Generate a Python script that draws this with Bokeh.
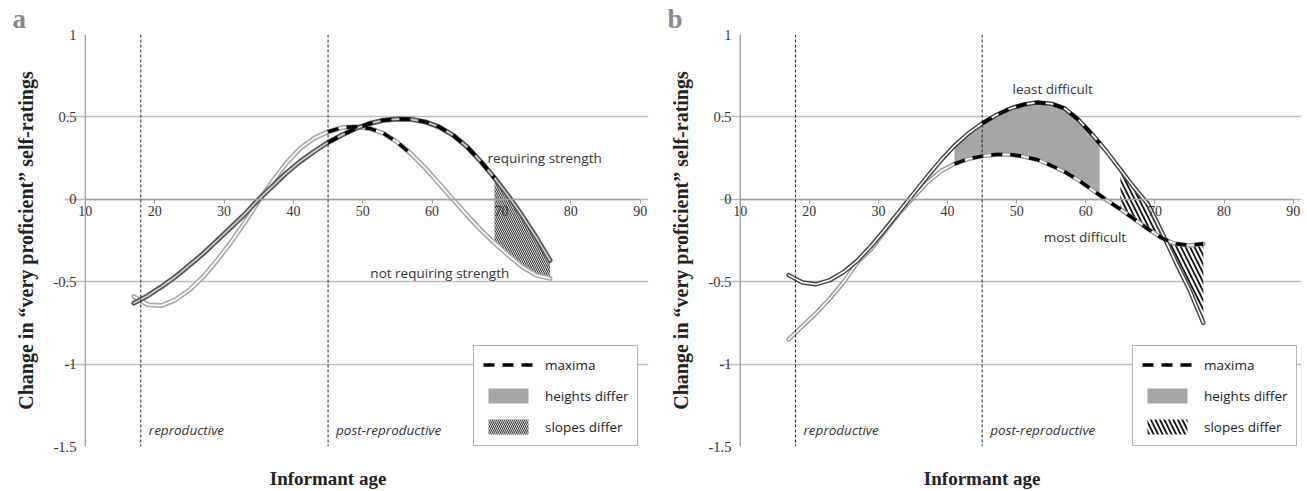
import numpy as np
from bokeh.plotting import figure
from bokeh.layouts import row
from bokeh.models import (Range1d, FixedTicker, Span, Label, Title, Legend,
                          LegendItem, NumeralTickFormatter, LinearAxis)
from bokeh.embed import file_html
from bokeh.resources import INLINE

# ---------------- data ----------------
# panel a
ages_a = [17, 19, 21, 23, 25, 27, 29, 31, 33, 35, 37, 39, 41, 43, 45, 47, 49, 51,
          53, 55, 57, 59, 61, 63, 65, 67, 69, 71, 73, 75, 77]
requiring = [-0.63, -0.585, -0.53, -0.47, -0.40, -0.33, -0.25, -0.17, -0.09, 0.0,
             0.08, 0.16, 0.23, 0.29, 0.345, 0.39, 0.43, 0.46, 0.48, 0.487, 0.485,
             0.47, 0.44, 0.39, 0.32, 0.23, 0.13, 0.02, -0.10, -0.23, -0.37]
not_requiring = [-0.59, -0.64, -0.645, -0.61, -0.55, -0.47, -0.37, -0.26, -0.14, -0.01,
                 0.11, 0.22, 0.31, 0.37, 0.41, 0.435, 0.44, 0.43, 0.40, 0.345, 0.275,
                 0.19, 0.095, 0.0, -0.095, -0.185, -0.265, -0.34, -0.41, -0.46, -0.48]
# panel b
ages_b = [17, 19, 21, 23, 25, 27, 29, 31, 33, 35, 37, 39, 41, 43, 45, 47, 49, 51,
          53, 55, 57, 59, 61, 62, 63, 65, 67, 69, 71, 72, 73, 75, 77]
least_difficult = [-0.46, -0.505, -0.515, -0.49, -0.44, -0.37, -0.28, -0.18, -0.075, 0.03,
                   0.135, 0.235, 0.325, 0.40, 0.46, 0.51, 0.55, 0.575, 0.588, 0.58, 0.55,
                   0.48, 0.39, 0.34, 0.29, 0.18, 0.07, -0.03, -0.20, -0.29, -0.38, -0.55, -0.75]
most_difficult = [-0.85, -0.77, -0.69, -0.60, -0.50, -0.38, -0.30, -0.19, -0.085, 0.01,
                  0.10, 0.17, 0.215, 0.245, 0.262, 0.272, 0.272, 0.26, 0.24, 0.205, 0.165,
                  0.115, 0.055, 0.025, -0.005, -0.06, -0.12, -0.18, -0.235, -0.255, -0.27,
                  -0.28, -0.27]

# age windows
maxima_a = {"requiring": (45, 69), "not_requiring": (45, 57)}
slopes_a = (69, 77)
maxima_b = {"least": (45, 62), "most": (41, 77)}
heights_b = (41, 62)
slopes_b = (65, 77)

x_ticks = [10, 20, 30, 40, 50, 60, 70, 80, 90]
y_ticks = [-1.5, -1, -0.5, 0, 0.5, 1]
phase_ages = [18, 45]
phase_names = ["reproductive", "post-reproductive"]
legend_labels = ["maxima", "heights differ", "slopes differ"]
x_title = "Informant age"
y_title = "Change in \u201cvery proficient\u201d self-ratings"

SERIF = "Liberation Serif"
SANS = "Open Sans"
GRID = "#bdbdbd"
AXIS = "#a0a0a0"
X_MIN, X_MAX = x_ticks[0], x_ticks[-1]
X_TITLE_AT = 45   # where the x title is centred (as in the original figure)


def window(ages, vals, lo, hi):
    a = np.array(ages, dtype=float)
    m = (a >= lo) & (a <= hi)
    return a[m], np.array(vals, dtype=float)[m]


def base_fig(width, border_left, letter):
    p = figure(width=width, height=491, x_range=Range1d(7, 91.2), y_range=Range1d(-1.5, 1),
               output_backend="svg", toolbar_location=None,
               min_border_left=border_left, min_border_right=6,
               min_border_top=32, min_border_bottom=44)
    p.outline_line_color = None
    p.background_fill_color = "white"
    p.border_fill_color = "white"
    p.xgrid.visible = False
    p.ygrid.ticker = FixedTicker(ticks=y_ticks)
    p.ygrid.grid_line_color = GRID
    p.ygrid.grid_line_width = 1.4
    p.ygrid.bounds = (X_MIN - 0.75, X_MAX)

    xa = p.xaxis[0]
    xa.fixed_location = 0
    xa.bounds = (X_MIN, X_MAX)
    xa.ticker = FixedTicker(ticks=x_ticks)
    xa.axis_line_color = AXIS
    xa.axis_line_width = 1.4
    xa.major_tick_line_color = AXIS
    xa.major_tick_out = 4
    xa.major_tick_in = 0
    xa.minor_tick_line_color = None
    xa.major_label_text_font = SERIF
    xa.major_label_text_font_size = "14px"
    xa.major_label_text_color = "#333333"
    xa.major_label_standoff = 3

    ya = p.yaxis[0]
    ya.ticker = FixedTicker(ticks=y_ticks)
    ya.formatter = NumeralTickFormatter(format="0.[0]")
    ya.axis_line_color = None
    ya.major_tick_line_color = None
    ya.major_tick_out = 0
    ya.major_tick_in = 0
    ya.minor_tick_line_color = None
    ya.major_label_text_font = SERIF
    ya.major_label_text_font_size = "14.5px"
    ya.major_label_text_color = "#333333"
    ya.major_label_standoff = -12
    ya.axis_label = y_title
    ya.axis_label_text_font = SERIF
    ya.axis_label_text_font_style = "bold"
    ya.axis_label_text_font_size = "20px"
    ya.axis_label_text_color = "#222222"
    ya.axis_label_standoff = 14

    # y axis line at the first x tick
    p.add_layout(Span(location=X_MIN, dimension="height", line_color=AXIS, line_width=1.4))

    # x axis title below the frame
    lab_axis = LinearAxis(ticker=FixedTicker(ticks=[X_TITLE_AT]),
                          major_label_overrides={X_TITLE_AT: x_title},
                          axis_line_color=None, major_tick_line_color=None,
                          minor_tick_line_color=None, major_tick_out=0, major_tick_in=0,
                          minor_tick_out=0, major_label_standoff=21,
                          major_label_text_font=SERIF, major_label_text_font_style="bold",
                          major_label_text_font_size="19px",
                          major_label_text_color="#222222")
    p.add_layout(lab_axis, "below")

    p.add_layout(Title(text=letter, align="left", text_font=SERIF, offset=-52,
                       text_font_style="bold", text_font_size="27px",
                       text_color="#8a8a8a", standoff=2), "above")

    for a in phase_ages:
        p.add_layout(Span(location=a, dimension="height", line_color="#222222",
                          line_width=1, line_dash="3 2"))
    for a, name in zip(phase_ages, phase_names):
        p.add_layout(Label(x=a, y=-1.4, text=name, x_offset=8, text_font=SANS,
                           text_font_style="italic", text_font_size="13.5px",
                           text_color="#333333", text_baseline="middle"))
    return p


def curve(p, ages, vals, outer, inner, w=5):
    p.line(ages, vals, line_color=outer, line_width=w, line_join="round", line_cap="round")
    p.line(ages, vals, line_color=inner, line_width=1.6, line_join="round", line_cap="round")


def maxima(p, ages, vals, lo, hi):
    x, y = window(ages, vals, lo, hi)
    return p.line(x, y, line_color="black", line_width=3.5, line_dash="11 8")


def add_legend(p, items, x_loc):
    leg = Legend(items=[LegendItem(label=l, renderers=[r]) for l, r in zip(legend_labels, items)],
                 location=(x_loc, 0), orientation="vertical",
                 glyph_width=50, glyph_height=19, spacing=12, padding=9, margin=0,
                 label_standoff=12, label_text_font=SANS, label_text_font_size="13.5px",
                 label_text_color="#222222", border_line_color="#666666",
                 border_line_width=1.5, background_fill_color="white",
                 background_fill_alpha=1)
    p.add_layout(leg)


# ---------------- panel a ----------------
pa = base_fig(654, 64, "a")
xs, top = window(ages_a, requiring, *slopes_a)
_, bot = window(ages_a, not_requiring, *slopes_a)
hatch_a = pa.varea(x=xs, y1=bot, y2=top, fill_color="white", fill_alpha=1,
                   hatch_pattern="left_diagonal_line", hatch_color="#3a3a3a",
                   hatch_scale=4, hatch_weight=1.1)
gray_a = pa.varea(x=ages_a, y1=requiring, y2=requiring, fill_color="#a6a6a6")
curve(pa, ages_a, not_requiring, "#ababab", "white")
curve(pa, ages_a, requiring, "#555555", "#d0d0d0")
dash_a = maxima(pa, ages_a, requiring, *maxima_a["requiring"])
maxima(pa, ages_a, not_requiring, *maxima_a["not_requiring"])
pa.add_layout(Label(x=68, y=0.25, text="requiring strength", text_font=SANS,
                    text_font_size="13.5px", text_color="#333333", text_baseline="middle"))
pa.add_layout(Label(x=51.1, y=-0.445, text="not requiring strength", text_font=SANS,
                    text_font_size="13.5px", text_color="#333333", text_baseline="middle"))
add_legend(pa, [dash_a, gray_a, hatch_a], 409)

# ---------------- panel b ----------------
pb = base_fig(653, 65, "b")
xg, gt = window(ages_b, least_difficult, *heights_b)
_, gb = window(ages_b, most_difficult, *heights_b)
gray_b = pb.varea(x=xg, y1=gb, y2=gt, fill_color="#a6a6a6")
xh, ht = window(ages_b, least_difficult, *slopes_b)
_, hb = window(ages_b, most_difficult, *slopes_b)
hatch_b = pb.varea(x=xh, y1=hb, y2=ht, fill_color="white", fill_alpha=1,
                   hatch_pattern="left_diagonal_line", hatch_color="#111111",
                   hatch_scale=9, hatch_weight=1.8)
curve(pb, ages_b, most_difficult, "#9a9a9a", "white", 4.5)
curve(pb, ages_b, least_difficult, "#444444", "white", 4.5)
dash_b = maxima(pb, ages_b, least_difficult, *maxima_b["least"])
maxima(pb, ages_b, most_difficult, *maxima_b["most"])
pb.add_layout(Label(x=49.4, y=0.67, text="least difficult", text_font=SANS,
                    text_font_size="13.5px", text_color="#333333", text_baseline="middle"))
pb.add_layout(Label(x=53.9, y=-0.23, text="most difficult", text_font=SANS,
                    text_font_size="13.5px", text_color="#333333", text_baseline="middle"))
add_legend(pb, [dash_b, gray_b, hatch_b], 413)

layout = row(pa, pb)
open("out.html", "w").write(file_html(layout, INLINE))
